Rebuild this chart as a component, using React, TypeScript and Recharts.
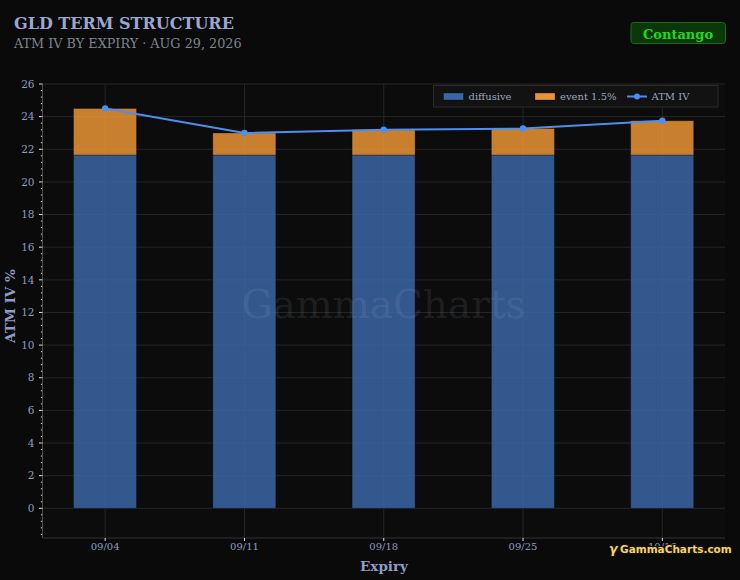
import React from "react";
import {
  ComposedChart,
  Bar,
  Line,
  XAxis,
  YAxis,
  CartesianGrid,
} from "recharts";

const expiries = ["09/04", "09/11", "09/18", "09/25", "10/16"];
const diffusive = [21.65, 21.65, 21.65, 21.65, 21.65];
const eventPremium = [2.85, 1.35, 1.55, 1.62, 2.1];
const atmIv = [24.5, 23.0, 23.2, 23.27, 23.75];
const yMajorTicks = [0, 2, 4, 6, 8, 10, 12, 14, 16, 18, 20, 22, 24, 26];
const yMinorTicks = Array.from({ length: 70 }, (_, i) => +(-1.6 + i * 0.4).toFixed(1));
const xTicks = [0, 1, 2, 3, 4];

const data = expiries.map((label, i) => ({
  idx: i,
  label,
  diffusive: diffusive[i],
  event: eventPremium[i],
  atm: atmIv[i],
}));

const FONT = "'DejaVu Serif', serif";
const BG = "#0a0a0a";
const BLUE = "#3b66a6";
const ORANGE = "#ea9535";
const LINE = "#4d8ff0";
const TICK = "#8d9bc2";
const AXIS_X = 42.5;

function YTick(props: any) {
  const { y, payload } = props;
  const v = payload.value;
  const major = yMajorTicks.some((t) => Math.abs(t - v) < 1e-6);
  if (!major) {
    return <line x1={AXIS_X - 1.6} x2={AXIS_X - 0.4} y1={y} y2={y} stroke="#e0e0e0" strokeWidth={1} />;
  }
  return (
    <g>
      <line x1={AXIS_X - 3.5} x2={AXIS_X} y1={y} y2={y} stroke="#e0e0e0" strokeWidth={1} />
      <text x={AXIS_X - 8} y={y} dy="0.35em" textAnchor="end" fill={TICK} fontSize={10.5} fontFamily={FONT}>
        {v}
      </text>
    </g>
  );
}

export default function App() {
  return (
    <div style={{ position: "relative", width: 740, height: 580, background: BG, fontFamily: FONT }}>
      <style>{"body{margin:0;background:#0a0a0a}"}</style>
      <ComposedChart
        width={740}
        height={580}
        data={data}
        margin={{ top: 84, right: 15, bottom: 12, left: 12 }}
      >
        <CartesianGrid
          stroke="#262626"
          fill="#0c0c0c"
          horizontalValues={yMajorTicks}
          verticalValues={xTicks}
        />
        <XAxis
          dataKey="idx"
          type="number"
          domain={[-0.45, 4.45]}
          ticks={xTicks}
          interval={0}
          tickFormatter={(i) => expiries[i]}
          height={30}
          tickSize={3}
          axisLine={{ stroke: "#333" }}
          tickLine={{ stroke: "#e0e0e0" }}
          tick={{ fill: TICK, fontSize: 10, fontFamily: FONT }}
          label={{
            content: () => (
              <text x={384} y={571} textAnchor="middle" fill="#8e9cc6" fontSize={13.5} fontWeight="bold" fontFamily={FONT}>
                Expiry
              </text>
            ),
          }}
        />
        <YAxis
          type="number"
          domain={[-1.82, 26]}
          ticks={yMinorTicks}
          interval={0}
          width={30.5}
          axisLine={{ stroke: "#4a4a4a" }}
          tickLine={false}
          tick={<YTick />}
          label={{
            content: () => (
              <text
                x={15}
                y={306}
                transform="rotate(-90 15 306)"
                textAnchor="middle"
                fill="#8e9cc6"
                fontSize={13.5}
                fontWeight="bold"
                fontFamily={FONT}
              >
                ATM IV %
              </text>
            ),
          }}
        />
        <Bar dataKey="diffusive" stackId="iv" fill={BLUE} fillOpacity={0.85} stroke="rgba(0,0,0,0.3)" barSize={63} isAnimationActive={false} />
        <Bar dataKey="event" stackId="iv" fill={ORANGE} fillOpacity={0.85} stroke="rgba(0,0,0,0.3)" barSize={63} isAnimationActive={false} />
        <Line
          dataKey="atm"
          type="linear"
          stroke={LINE}
          strokeWidth={2}
          dot={{ r: 3.2, fill: LINE, stroke: LINE, strokeWidth: 0 }}
          isAnimationActive={false}
        />
      </ComposedChart>

      <svg width={740} height={580} style={{ position: "absolute", left: 0, top: 0, pointerEvents: "none" }}>
        <text x={14} y={28.5} fill="#9ba7d0" fontSize={16} fontWeight="bold" fontFamily={FONT}>
          GLD TERM STRUCTURE
        </text>
        <text x={14} y={48} fill="#7f8490" fontSize={12.8} fontFamily={FONT}>
          ATM IV BY EXPIRY · AUG 29, 2026
        </text>

        <rect x={631} y={22.5} width={94.5} height={21} rx={3} fill="#0b380b" stroke="#1c6a1c" />
        <text x={678} y={38.5} textAnchor="middle" fill="#22d822" fontSize={13} fontWeight="bold" fontFamily={FONT}>
          Contango
        </text>

        <rect x={433.5} y={85.5} width={284.5} height={21.5} fill="#121212" stroke="#2b2b2b" />
        <rect x={443.5} y={93} width={20} height={7} fill={BLUE} stroke="rgba(0,0,0,0.3)" />
        <text x={468.5} y={99.5} fill="#9aa3bd" fontSize={10} fontFamily={FONT}>diffusive</text>
        <rect x={535} y={93} width={20} height={7} fill={ORANGE} stroke="rgba(0,0,0,0.3)" />
        <text x={560} y={99.5} fill="#9aa3bd" fontSize={10} fontFamily={FONT}>event 1.5%</text>
        <line x1={627} x2={647} y1={96.5} y2={96.5} stroke={LINE} strokeWidth={2} />
        <circle cx={637} cy={96.5} r={3} fill={LINE} />
        <text x={651.5} y={99.5} fill="#9aa3bd" fontSize={10} fontFamily={FONT}>ATM IV</text>

        <text x={383.5} y={318} textAnchor="middle" fill="rgba(200,205,220,0.11)" fontSize={39} fontFamily={FONT}>
          GammaCharts
        </text>

        <text
          x={609}
          y={553}
          fill="#f2d26a"
          stroke="#1a1406"
          strokeWidth={2}
          paintOrder="stroke"
          fontSize={10.5}
          fontWeight="bold"
          fontFamily="'DejaVu Sans', sans-serif"
        >
          <tspan fontStyle="italic" fontSize={12.5}>γ</tspan>
          <tspan dx={2.5}>GammaCharts.com</tspan>
        </text>
      </svg>
    </div>
  );
}
